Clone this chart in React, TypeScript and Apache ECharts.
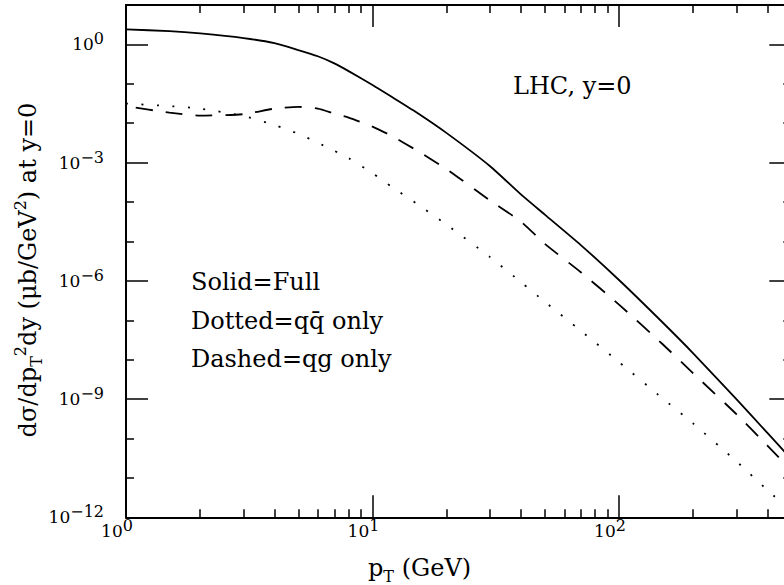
import React, { useEffect, useRef } from "react";
import * as echarts from "echarts";

const FONT = "DejaVu Serif";

// pT grid (GeV)
const pT = [1, 1.5, 2, 3, 4, 5, 6, 7, 8, 10, 12, 15, 20, 30, 40, 50, 70, 100, 150, 200, 300, 400, 500];
// Solid = Full
const solidFull = [2.4, 2.17, 1.9, 1.45, 1.08, 0.72, 0.5, 0.33, 0.21, 0.093, 0.046, 0.0192, 0.0056, 8.1e-4, 1.56e-4, 4.8e-5, 8.1e-6, 1.05e-6, 8.9e-8, 1.45e-8, 9.8e-10, 1.38e-10, 3.0e-11];
// Dashed = qg only
const dashedQg = [0.027, 0.0186, 0.0156, 0.017, 0.0235, 0.026, 0.0235, 0.0176, 0.0139, 0.0082, 0.0047, 0.0021, 6.8e-4, 1.09e-4, 3.2e-5, 8.7e-6, 1.66e-6, 2.5e-7, 2.5e-8, 4.5e-9, 4.1e-10, 6.6e-11, 1.55e-11];
// Dotted = q qbar only
const dottedQq = [0.0315, 0.0272, 0.0235, 0.0152, 0.009, 0.0054, 0.0032, 0.002, 0.0013, 5.4e-4, 2.4e-4, 9.4e-5, 2.65e-5, 4.0e-6, 9.3e-7, 2.95e-7, 5.4e-8, 8.7e-9, 1.05e-9, 2.4e-10, 2.6e-11, 4.9e-12, 1.41e-12];

// Axis ticks / labels
const xMajor = [1, 10, 100];
const xMinor = [2, 3, 4, 5, 6, 7, 8, 9, 20, 30, 40, 50, 60, 70, 80, 90, 200, 300, 400];
const yLabels = [1e-12, 1e-9, 1e-6, 1e-3, 1];
const yMajor = [1e-12, 1e-9, 1e-6, 1e-3, 1, 10];
const yMinor = [1e-11, 1e-10, 1e-8, 1e-7, 1e-5, 1e-4, 1e-2, 1e-1];

const xMin = 1, xMax = 500, yMin = 1e-12, yMax = 10;

const labelRich = {
  base: { fontFamily: FONT, fontSize: 17, lineHeight: 17, color: "#000" },
  sup: { fontFamily: FONT, fontSize: 16, lineHeight: 16, padding: [0, 0, 11, 0], color: "#000" },
};

const powFmt = (v: number) => {
  const e = Math.round(Math.log10(v));
  return `{base|10}{sup|${e < 0 ? "\u2212" + -e : e}}`;
};

const titleRich = {
  m: { fontFamily: FONT, fontSize: 24, lineHeight: 32, verticalAlign: "middle", fill: "#000" },
  sp: { fontFamily: FONT, fontSize: 16, lineHeight: 16, verticalAlign: "top", fill: "#000" },
  sb: { fontFamily: FONT, fontSize: 16, lineHeight: 16, verticalAlign: "bottom", fill: "#000" },
};

const axisLineStyle = { color: "#000", width: 2 };
const tickStyle = { color: "#000", width: 1.5 };

function xAxisDef(position: string, ticks: number[], len: number, showLine: boolean, showLabel: boolean) {
  return {
    type: "log",
    logBase: 10,
    min: xMin,
    max: xMax,
    position,
    axisLine: { show: showLine, onZero: false, lineStyle: axisLineStyle },
    axisTick: { show: true, inside: true, length: len, customValues: ticks, lineStyle: tickStyle },
    axisLabel: showLabel
      ? { show: true, customValues: xMajor, formatter: powFmt, rich: labelRich, fontFamily: FONT, fontSize: 17, color: "#000", margin: 5, padding: [0, 18, 0, 0] }
      : { show: false },
    splitLine: { show: false },
    minorTick: { show: false },
  };
}

function yAxisDef(position: string, ticks: number[], len: number, showLine: boolean, showLabel: boolean) {
  return {
    type: "log",
    logBase: 10,
    min: yMin,
    max: yMax,
    position,
    axisLine: { show: showLine, onZero: false, lineStyle: axisLineStyle },
    axisTick: { show: true, inside: true, length: len, customValues: ticks, lineStyle: tickStyle },
    axisLabel: showLabel
      ? { show: true, customValues: yLabels, formatter: powFmt, rich: labelRich, fontFamily: FONT, fontSize: 17, color: "#000", margin: 22 }
      : { show: false },
    splitLine: { show: false },
    minorTick: { show: false },
  };
}

const mk = (vals: number[]) => pT.map((x, i) => [x, vals[i]]);

const option = {
  animation: false,
  backgroundColor: "#fff",
  grid: { left: 126, top: 5, width: 665.3, height: 512.3, containLabel: false, outerBoundsMode: "none" },
  xAxis: [
    xAxisDef("bottom", xMajor, 22, true, true),
    xAxisDef("bottom", xMinor, 8, false, false),
    xAxisDef("top", xMajor, 22, true, false),
    xAxisDef("top", xMinor, 8, false, false),
  ],
  yAxis: [
    yAxisDef("left", yMajor, 22, true, true),
    yAxisDef("left", yMinor, 8, false, false),
    yAxisDef("right", yMajor, 22, true, false),
    yAxisDef("right", yMinor, 8, false, false),
  ],
  series: [
    {
      name: "Solid=Full",
      type: "line",
      xAxisIndex: 0,
      yAxisIndex: 0,
      data: mk(solidFull),
      showSymbol: false,
      smooth: 0.2,
      lineStyle: { color: "#000", width: 1.8, type: "solid" },
    },
    {
      name: "Dashed=qg only",
      type: "line",
      xAxisIndex: 0,
      yAxisIndex: 0,
      data: mk(dashedQg),
      showSymbol: false,
      smooth: 0.2,
      lineStyle: { color: "#000", width: 1.8, type: [17, 13], dashOffset: 20 },
    },
    {
      name: "Dotted=qq\u0304 only",
      type: "line",
      xAxisIndex: 0,
      yAxisIndex: 0,
      data: mk(dottedQq),
      showSymbol: false,
      smooth: 0.2,
      lineStyle: { color: "#000", width: 1.8, type: [2, 13.5] },
    },
  ],
  graphic: [
    {
      type: "text",
      x: 513,
      y: 86,
      style: { text: "LHC, y=0", fontFamily: FONT, fontSize: 24, fill: "#000", align: "left", verticalAlign: "middle" },
    },
    {
      type: "text",
      x: 191,
      y: 282,
      style: { text: "Solid=Full", fontFamily: FONT, fontSize: 24, fill: "#000", align: "left", verticalAlign: "middle" },
    },
    {
      type: "text",
      x: 191,
      y: 320.5,
      style: { text: "Dotted=qq\u0304 only", fontFamily: FONT, fontSize: 24, fill: "#000", align: "left", verticalAlign: "middle" },
    },
    {
      type: "text",
      x: 191,
      y: 359,
      style: { text: "Dashed=qg only", fontFamily: FONT, fontSize: 24, fill: "#000", align: "left", verticalAlign: "middle" },
    },
    {
      type: "text",
      x: 368,
      y: 568,
      style: { text: "{m|p}{sb|T}{m| (GeV)}", rich: titleRich, fill: "#000", align: "left", verticalAlign: "middle" },
    },
    {
      type: "text",
      x: 28,
      y: 270,
      rotation: Math.PI / 2,
      style: {
        text: "{m|d\u03C3/dp}{sb|T}{sp|2}{m|dy (\u03BCb/GeV}{sp|2}{m|) at y=0}",
        rich: titleRich,
        fill: "#000",
        align: "center",
        verticalAlign: "middle",
      },
    },
  ],
};

export default function App() {
  const ref = useRef<HTMLDivElement>(null);
  useEffect(() => {
    const chart = echarts.init(ref.current as HTMLDivElement, null, { renderer: "svg" });
    chart.setOption(option as any);
    return () => chart.dispose();
  }, []);
  return (
    <div style={{ position: "fixed", left: 0, top: 0, width: 784, height: 585, overflow: "hidden", background: "#fff" }}>
      <div ref={ref} style={{ width: 784, height: 585 }} />
    </div>
  );
}
